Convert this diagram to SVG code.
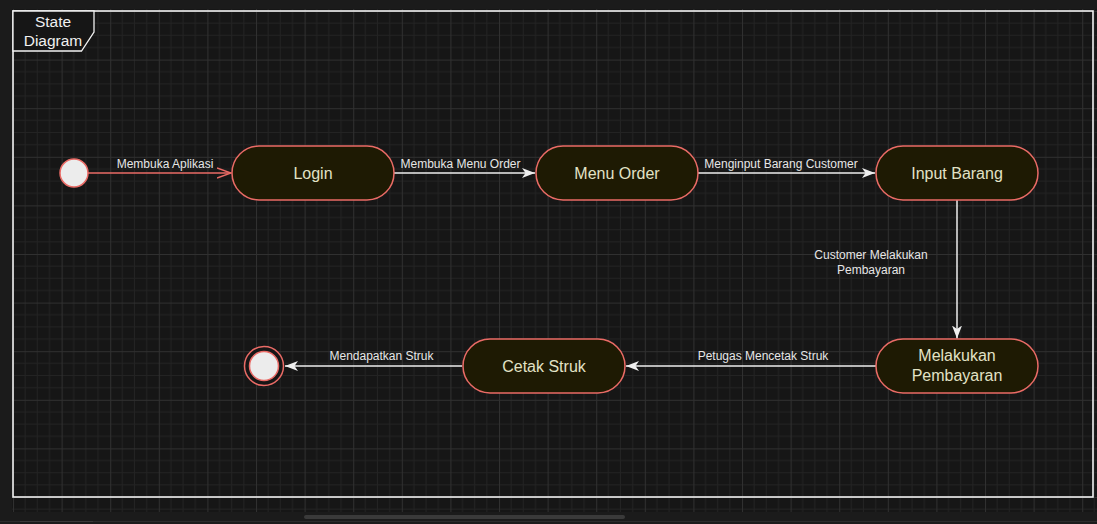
<svg xmlns="http://www.w3.org/2000/svg" width="1097" height="524" viewBox="0 0 1097 524">
  <style>
    .node { fill: #1e1a03; stroke: #ea6b66; stroke-width: 1.5; }
    .ntext { font-family: "Liberation Sans", Arial, sans-serif; font-size: 16px; fill: #e2e2c6; text-anchor: middle; }
    .elabel { font-family: "Liberation Sans", Arial, sans-serif; font-size: 12px; fill: #e6e6e6; text-anchor: middle; }
    .edge { stroke: #eeeeee; stroke-width: 1.5; fill: none; }
    .edge-red { stroke: #ea6b66; stroke-width: 1.5; fill: none; }
    .ftext { font-family: "Liberation Sans", Arial, sans-serif; font-size: 15.5px; fill: #f0f0f0; text-anchor: middle; }
  </style>
  <defs>
    <pattern id="grid" patternUnits="userSpaceOnUse" x="13" y="11" width="48.6" height="48.6">
      <rect width="48.6" height="48.6" fill="#161616"/>
      <path d="M12.15 0V48.6M24.3 0V48.6M36.45 0V48.6M0 12.15H48.6M0 24.3H48.6M0 36.45H48.6" stroke="#232323" stroke-width="1" fill="none"/>
      <path d="M0.5 0V48.6M0 0.5H48.6" stroke="#303030" stroke-width="1" fill="none"/>
    </pattern>
    <marker id="classic" markerUnits="userSpaceOnUse" markerWidth="14" markerHeight="12" refX="13" refY="5" orient="auto" viewBox="0 0 14 10">
      <path d="M0,0 L13,5 L0,10 L3.5,5 Z" fill="#eeeeee"/>
    </marker>
    <marker id="open" markerUnits="userSpaceOnUse" markerWidth="16" markerHeight="12" refX="14" refY="6" orient="auto" viewBox="0 0 16 12">
      <path d="M0,1 L14,6 L0,11" fill="none" stroke="#ea6b66" stroke-width="1.5"/>
    </marker>
  </defs>

  <!-- background -->
  <rect x="0" y="0" width="1097" height="524" fill="#1b1b1b"/>
  <rect x="12" y="9" width="1085" height="503" fill="url(#grid)"/>
  <rect x="304" y="515" width="321" height="4" rx="2" fill="#3a3a3a"/>
  <line x1="0" y1="521.5" x2="1097" y2="521.5" stroke="#2c2c2c" stroke-width="1"/>
  <line x1="20" y1="521.5" x2="93" y2="521.5" stroke="#3a3a3a" stroke-width="1"/>

  <!-- frame -->
  <g id="frame">
    <rect x="13" y="11" width="1080" height="486" fill="none" stroke="#f2f2f2" stroke-width="1.6"/>
    <path d="M13 11 H94 V32 L81.5 51 H13 Z" fill="#161616" stroke="#f2f2f2" stroke-width="1.3"/>
    <text class="ftext" x="53" y="26.5">State</text>
    <text class="ftext" x="53" y="45.5">Diagram</text>
  </g>

  <!-- connectors -->
  <g id="connectors">
    <line class="edge-red" x1="88" y1="173" x2="231" y2="173" marker-end="url(#open)"/>
    <text class="elabel" x="165" y="167.5">Membuka Aplikasi</text>

    <line class="edge" x1="394" y1="173" x2="535" y2="173" marker-end="url(#classic)"/>
    <text class="elabel" x="460.5" y="167.5">Membuka Menu Order</text>

    <line class="edge" x1="698" y1="173" x2="875" y2="173" marker-end="url(#classic)"/>
    <text class="elabel" x="781" y="167.5">Menginput Barang Customer</text>

    <line class="edge" x1="957" y1="200" x2="957" y2="338.5" marker-end="url(#classic)"/>
    <text class="elabel" x="871" y="259">Customer Melakukan</text>
    <text class="elabel" x="871" y="273.5">Pembayaran</text>

    <line class="edge" x1="876" y1="366" x2="626" y2="366" marker-end="url(#classic)"/>
    <text class="elabel" x="763" y="359.5">Petugas Mencetak Struk</text>

    <line class="edge" x1="462" y1="366" x2="285" y2="366" marker-end="url(#classic)"/>
    <text class="elabel" x="381.5" y="359.5">Mendapatkan Struk</text>
  </g>

  <!-- nodes -->
  <g id="start">
    <circle cx="74" cy="173" r="14" fill="#ececec" stroke="#ea6b66" stroke-width="1.5"/>
  </g>
  <g id="login">
    <rect class="node" x="232" y="146" width="162" height="54" rx="27" ry="27"/>
    <text class="ntext" x="313" y="178.7">Login</text>
  </g>
  <g id="menu-order">
    <rect class="node" x="536" y="146" width="162" height="54" rx="27" ry="27"/>
    <text class="ntext" x="617" y="178.7">Menu Order</text>
  </g>
  <g id="input-barang">
    <rect class="node" x="876" y="146" width="162" height="54" rx="27" ry="27"/>
    <text class="ntext" x="957" y="178.7">Input Barang</text>
  </g>
  <g id="melakukan-pembayaran">
    <rect class="node" x="876" y="339" width="162" height="54" rx="27" ry="27"/>
    <text class="ntext" x="957" y="361">Melakukan</text>
    <text class="ntext" x="957" y="381">Pembayaran</text>
  </g>
  <g id="cetak-struk">
    <rect class="node" x="463" y="339" width="162" height="54" rx="27" ry="27"/>
    <text class="ntext" x="544" y="371.7">Cetak Struk</text>
  </g>
  <g id="end">
    <circle cx="264" cy="366" r="19.5" fill="#161616" stroke="#ea6b66" stroke-width="1.5"/>
    <circle cx="264" cy="366" r="14.5" fill="#ececec" stroke="#ea6b66" stroke-width="1.5"/>
  </g>
</svg>
